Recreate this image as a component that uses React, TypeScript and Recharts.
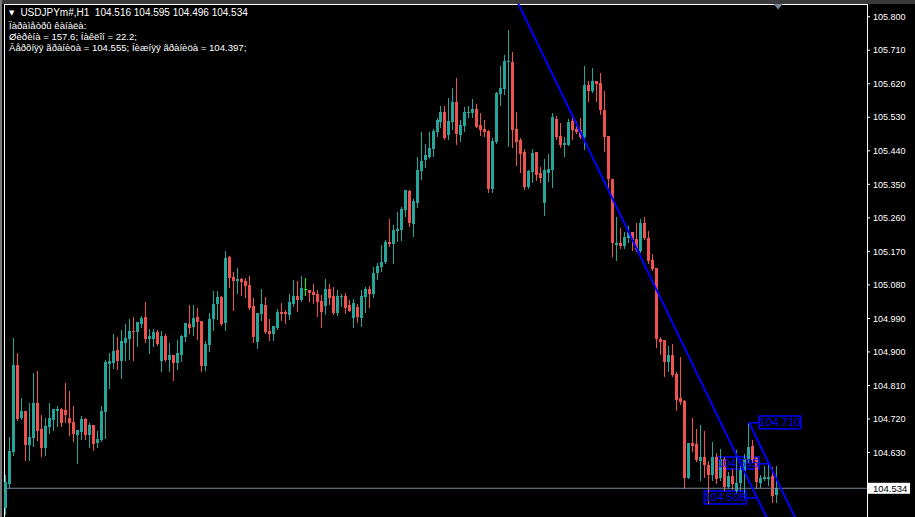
import React from 'react';
import { ComposedChart, Bar, XAxis, YAxis, ReferenceLine, ReferenceArea, ReferenceDot } from 'recharts';

const HEADER_LINES = [
  'USDJPYm#,H1  104.516 104.595 104.496 104.534',
  'Ïàðàìåòðû êàíàëà:',
  'Øèðèíà = 157.6; Íàêëîí = 22.2;',
  'Âåðõíÿÿ ãðàíèöà = 104.555; Íèæíÿÿ ãðàíèöà = 104.397;',
];

const OPEN = [
  104.481, 104.545, 104.632, 104.865, 104.723, 104.741, 104.650, 104.669, 104.763, 104.693,
  104.642, 104.698, 104.717, 104.741, 104.747, 104.744, 104.723, 104.712, 104.677, 104.685,
  104.720, 104.677, 104.704, 104.655, 104.663, 104.739, 104.867, 104.870, 104.905, 104.875,
  104.924, 104.935, 104.956, 104.953, 104.975, 104.993, 104.935, 104.935, 104.953, 104.875,
  104.943, 104.878, 104.892, 104.870, 104.892, 104.940, 104.975, 104.967, 104.993, 104.983,
  104.862, 104.919, 104.988, 105.028, 105.047, 104.978, 105.155, 105.101, 105.090, 105.096,
  105.090, 105.080, 105.023, 104.927, 105.002, 105.026, 104.956, 104.948, 104.964, 105.007,
  105.007, 104.999, 105.028, 105.050, 105.039, 105.068, 105.066, 105.061, 105.055, 105.037,
  105.023, 105.069, 105.050, 105.004, 105.049, 105.050, 105.026, 104.991, 105.020, 104.991,
  105.047, 105.069, 105.055, 105.112, 105.128, 105.141, 105.195, 105.190, 105.225, 105.227,
  105.281, 105.332, 105.243, 105.300, 105.386, 105.415, 105.423, 105.445, 105.490, 105.517,
  105.544, 105.482, 105.517, 105.571, 105.482, 105.507, 105.541, 105.541, 105.552, 105.509,
  105.498, 105.493, 105.337, 105.463, 105.592, 105.606, 105.680, 105.678, 105.498, 105.469,
  105.437, 105.343, 105.383, 105.437, 105.380, 105.300, 105.380, 105.388, 105.525, 105.480,
  105.456, 105.456, 105.520, 105.498, 105.496, 105.477, 105.617, 105.601, 105.627, 105.622,
  105.550, 105.480, 105.364, 105.187, 105.192, 105.184, 105.206, 105.222, 105.203, 105.171,
  105.246, 105.206, 105.147, 105.125, 104.935, 104.932, 104.873, 104.892, 104.841, 104.777,
  104.768, 104.562, 104.655, 104.652, 104.607, 104.618, 104.597, 104.570, 104.618, 104.562,
  104.613, 104.537, 104.567, 104.527, 104.548, 104.580, 104.610, 104.647, 104.615, 104.548,
  104.559, 104.559, 104.567, 104.516,
];

const HIGH = [
  104.570, 104.671, 104.938, 104.897, 104.777, 104.742, 104.763, 104.843, 104.848, 104.731,
  104.723, 104.763, 104.748, 104.755, 104.750, 104.816, 104.795, 104.755, 104.691, 104.728,
  104.723, 104.709, 104.705, 104.687, 104.755, 104.878, 104.897, 104.948, 104.940, 104.959,
  104.975, 104.988, 104.993, 104.981, 104.996, 105.034, 104.962, 104.962, 104.959, 104.956,
  104.948, 104.924, 104.893, 104.932, 104.946, 104.979, 105.026, 105.026, 105.018, 104.984,
  104.929, 105.004, 105.063, 105.063, 105.050, 105.171, 105.158, 105.114, 105.125, 105.098,
  105.098, 105.104, 105.045, 105.005, 105.069, 105.047, 104.988, 104.971, 105.015, 105.031,
  105.012, 105.055, 105.093, 105.090, 105.104, 105.098, 105.067, 105.082, 105.066, 105.053,
  105.096, 105.082, 105.074, 105.066, 105.055, 105.058, 105.039, 105.042, 105.028, 105.066,
  105.074, 105.077, 105.128, 105.139, 105.187, 105.200, 105.257, 105.241, 105.276, 105.289,
  105.336, 105.335, 105.311, 105.423, 105.490, 105.458, 105.490, 105.498, 105.528, 105.560,
  105.560, 105.582, 105.609, 105.635, 105.523, 105.557, 105.560, 105.579, 105.566, 105.541,
  105.523, 105.496, 105.474, 105.598, 105.668, 105.697, 105.764, 105.705, 105.544, 105.474,
  105.445, 105.388, 105.445, 105.438, 105.397, 105.418, 105.431, 105.541, 105.533, 105.515,
  105.477, 105.525, 105.531, 105.520, 105.528, 105.668, 105.627, 105.662, 105.628, 105.649,
  105.601, 105.481, 105.365, 105.262, 105.233, 105.222, 105.238, 105.223, 105.246, 105.257,
  105.262, 105.225, 105.163, 105.126, 104.940, 104.933, 104.916, 104.921, 104.846, 104.886,
  104.771, 104.656, 104.723, 104.693, 104.704, 104.687, 104.607, 104.658, 104.629, 104.639,
  104.618, 104.578, 104.586, 104.637, 104.597, 104.626, 104.710, 104.663, 104.618, 104.570,
  104.594, 104.602, 104.591, 104.595,
];

const LOW = [
  104.465, 104.535, 104.624, 104.717, 104.720, 104.610, 104.610, 104.647, 104.663, 104.621,
  104.624, 104.682, 104.690, 104.701, 104.701, 104.712, 104.677, 104.660, 104.602, 104.666,
  104.666, 104.644, 104.637, 104.644, 104.660, 104.669, 104.803, 104.857, 104.854, 104.830,
  104.878, 104.881, 104.878, 104.916, 104.967, 104.927, 104.897, 104.916, 104.919, 104.848,
  104.875, 104.848, 104.824, 104.854, 104.875, 104.929, 104.951, 104.946, 104.935, 104.848,
  104.851, 104.902, 104.959, 104.988, 104.972, 104.959, 105.074, 105.012, 105.058, 105.053,
  105.047, 105.015, 104.927, 104.911, 104.986, 104.951, 104.932, 104.932, 104.962, 104.986,
  104.978, 104.988, 105.023, 105.010, 105.038, 105.053, 105.037, 105.031, 104.996, 104.967,
  105.002, 105.028, 105.002, 104.999, 105.023, 105.004, 105.009, 104.967, 104.980, 104.970,
  105.007, 105.020, 105.047, 105.096, 105.117, 105.139, 105.184, 105.139, 105.198, 105.200,
  105.265, 105.238, 105.211, 105.289, 105.364, 105.397, 105.422, 105.426, 105.480, 105.504,
  105.473, 105.471, 105.498, 105.458, 105.466, 105.493, 105.531, 105.531, 105.503, 105.482,
  105.480, 105.329, 105.329, 105.462, 105.563, 105.592, 105.453, 105.450, 105.402, 105.383,
  105.337, 105.340, 105.356, 105.362, 105.356, 105.268, 105.359, 105.343, 105.471, 105.450,
  105.426, 105.455, 105.471, 105.488, 105.474, 105.445, 105.574, 105.598, 105.574, 105.539,
  105.439, 105.335, 105.158, 105.147, 105.179, 105.179, 105.195, 105.174, 105.171, 105.168,
  105.203, 105.139, 105.120, 104.913, 104.894, 104.835, 104.848, 104.835, 104.744, 104.760,
  104.535, 104.561, 104.634, 104.607, 104.556, 104.564, 104.495, 104.556, 104.548, 104.556,
  104.529, 104.535, 104.532, 104.524, 104.529, 104.508, 104.602, 104.605, 104.535, 104.535,
  104.556, 104.543, 104.497, 104.496,
];

const CLOSE = [
  104.551, 104.634, 104.865, 104.720, 104.741, 104.650, 104.671, 104.763, 104.687, 104.642,
  104.701, 104.723, 104.747, 104.747, 104.709, 104.731, 104.709, 104.679, 104.690, 104.720,
  104.677, 104.704, 104.652, 104.666, 104.741, 104.873, 104.875, 104.902, 104.875, 104.929,
  104.938, 104.956, 104.953, 104.980, 104.991, 104.935, 104.943, 104.953, 104.921, 104.943,
  104.878, 104.892, 104.870, 104.897, 104.943, 104.978, 104.964, 104.991, 104.980, 104.862,
  104.921, 104.988, 105.028, 105.047, 104.975, 105.152, 105.098, 105.090, 105.096, 105.088,
  105.077, 105.018, 104.940, 105.004, 105.028, 104.953, 104.948, 104.970, 105.007, 105.002,
  105.002, 105.034, 105.050, 105.039, 105.072, 105.068, 105.058, 105.053, 105.034, 105.007,
  105.069, 105.045, 105.004, 105.050, 105.050, 105.018, 105.010, 105.031, 104.993, 105.050,
  105.069, 105.055, 105.112, 105.131, 105.141, 105.195, 105.190, 105.227, 105.230, 105.284,
  105.335, 105.246, 105.305, 105.388, 105.413, 105.429, 105.447, 105.493, 105.523, 105.544,
  105.474, 105.520, 105.571, 105.485, 105.509, 105.544, 105.544, 105.552, 105.504, 105.496,
  105.490, 105.337, 105.466, 105.595, 105.609, 105.681, 105.681, 105.496, 105.463, 105.431,
  105.343, 105.386, 105.434, 105.375, 105.367, 105.388, 105.391, 105.531, 105.477, 105.456,
  105.461, 105.517, 105.496, 105.490, 105.477, 105.617, 105.601, 105.627, 105.619, 105.550,
  105.477, 105.364, 105.192, 105.192, 105.184, 105.209, 105.222, 105.200, 105.174, 105.246,
  105.206, 105.144, 105.123, 104.935, 104.927, 104.873, 104.892, 104.838, 104.771, 104.766,
  104.562, 104.655, 104.647, 104.610, 104.618, 104.597, 104.570, 104.618, 104.559, 104.613,
  104.537, 104.567, 104.545, 104.548, 104.583, 104.613, 104.644, 104.610, 104.551, 104.562,
  104.564, 104.564, 104.513, 104.534,
];

const Y_TICKS = [
  105.8, 105.71, 105.62, 105.53, 105.44, 105.35, 105.26, 105.17, 105.08,
  104.99, 104.9, 104.81, 104.72, 104.63,
];

const LAST_PRICE = 104.534;
const CHANNEL_SLOPE = 0.0222;
const CHANNEL_UPPER = 104.555;
const CHANNEL_LOWER = 104.397;
const CHANNEL_ANCHOR_BAR = 193;
const UPPER_START_BAR = 186;
const LOWER_START_BAR = 127;
const LINE_END_BAR = 200;

const LABEL_BOXES = [
  { text: '104.710', x1: 188.5, x2: 198.9, y1: 104.694, y2: 104.728, lineFrom: 186, lineTo: 188.5, lineY: 104.71 },
  { text: '104.595', x1: 177.75, x2: 188.5, y1: 104.586, y2: 104.618, lineFrom: 188.5, lineTo: 191, lineY: 104.6 },
  { text: '104.508', x1: 174.75, x2: 185.25, y1: 104.492, y2: 104.527, lineFrom: 185.25, lineTo: 187.75, lineY: 104.508 },
];

const HIGHLIGHT_BAR = 75;
const SHIFT_MARK_BAR = 193.25;

const W = 915;
const H = 517;
const SLOTS = 216;
const Y_MIN = 104.4569;
const Y_MAX = 105.8341;

const BULL = '#26a69a';
const BEAR = '#ef5350';
const HILITE = '#00ff00';
const BLUE = '#0000ff';
const FONT = '"Liberation Sans", Arial, sans-serif';

const data = Array.from({ length: SLOTS }, (_, i) =>
  i < OPEN.length
    ? { i, o: OPEN[i], h: HIGH[i], l: LOW[i], c: CLOSE[i], range: [LOW[i], HIGH[i]] }
    : { i, range: null }
);

const channelAt = (base: number, bar: number) => base + CHANNEL_SLOPE * (CHANNEL_ANCHOR_BAR - bar);

function Candle(props: any) {
  const { x, y, width, height } = props;
  const p = props.payload;
  if (!p || p.o == null || x == null || y == null) return null;
  const { o, h, l, c } = p;
  const top = Math.min(y, y + height);
  const hgt = Math.abs(height);
  const k = h > l ? hgt / (h - l) : 0;
  const col = Math.floor(x + width / 2);
  const bt = Math.round(top + (h - Math.max(o, c)) * k);
  const bbRaw = Math.round(top + (h - Math.min(o, c)) * k);
  const bb = Math.max(bbRaw, bt + 1);
  const color = p.i === HIGHLIGHT_BAR ? HILITE : c >= o ? BULL : BEAR;
  return (
    <g>
      <line x1={col + 0.5} x2={col + 0.5} y1={Math.round(top)} y2={Math.round(top + hgt) + 1} stroke={color} strokeWidth={1} shapeRendering="crispEdges" />
      <rect x={col - 1} y={bt} width={3} height={bb - bt} fill={color} shapeRendering="crispEdges" />
    </g>
  );
}

function Frame(props: any) {
  const { x, y, width, height } = props;
  const l = Math.round(x) + 0.5;
  const t = Math.round(y) + 0.5;
  const r = Math.round(x + width) + 0.5;
  const b = Math.round(y + height) + 5;
  return <path d={`M${l},${b}V${t}H${r}V${b}`} stroke="#ffffff" strokeWidth={1} fill="none" shapeRendering="crispEdges" />;
}

function ShiftMark(props: any) {
  const { cx, cy } = props;
  if (cx == null) return null;
  return <polygon points={`${cx - 4.5},${cy} ${cx + 4.5},${cy} ${cx},${cy + 5.5}`} fill="#7b8794" />;
}

function PriceTag(props: any) {
  const vb = props.viewBox || {};
  const yy = vb.y;
  const xx = (vb.x || 0) + (vb.width || 0) + 1;
  return (
    <g>
      <rect x={xx} y={yy - 5.5} width={42} height={11} fill="#ffffff" />
      <text x={xx + 5} y={yy + 3.5} fill="#000000" fontSize={9.5} fontFamily={FONT}>{LAST_PRICE.toFixed(3)}</text>
    </g>
  );
}

export default function App() {
  return (
    <div style={{ position: 'absolute', left: 0, top: 0, width: W, height: H, background: '#000000', overflow: 'hidden' }}>
      <div style={{ position: 'absolute', left: 0, top: 0, width: W, height: 4, background: '#3a3a3a' }} />
      <div style={{ position: 'absolute', left: 0, top: 0, width: 2, height: H, background: '#7a7a7a' }} />
      <ComposedChart
        width={W}
        height={H}
        data={data}
        margin={{ top: 4, right: 0, bottom: 0, left: 4 }}
        barCategoryGap={0}
        style={{ position: 'absolute', left: 0, top: 0 }}
      >
        <XAxis xAxisId="cat" dataKey="i" type="category" hide />
        <XAxis xAxisId="num" dataKey="i" type="number" domain={[-0.5, SLOTS - 0.5]} allowDataOverflow hide />
        <YAxis
          orientation="right"
          width={48}
          domain={[Y_MIN, Y_MAX]}
          allowDataOverflow
          ticks={Y_TICKS}
          interval={0}
          tickFormatter={(v: number) => v.toFixed(3)}
          tick={{ fill: '#ffffff', fontSize: 9, fontFamily: FONT }}
          tickLine={{ stroke: '#ffffff' }}
          tickSize={3}
          tickMargin={3}
          axisLine={false}
        />
        <ReferenceArea
          xAxisId="num"
          x1={-0.5}
          x2={SLOTS - 0.5}
          y1={Y_MIN}
          y2={Y_MAX}
          ifOverflow="visible"
          shape={<Frame />}
        />
        {LABEL_BOXES.map((b) => (
          <ReferenceArea
            key={b.text}
            xAxisId="num"
            x1={b.x1}
            x2={b.x2}
            y1={b.y1}
            y2={b.y2}
            ifOverflow="visible"
            stroke={BLUE}
            strokeWidth={1.5}
            fill="none"
            fillOpacity={0}
            label={{ value: b.text, position: 'center', fill: BLUE, fontSize: 11.5, fontFamily: FONT }}
          />
        ))}
        {LABEL_BOXES.map((b) => (
          <ReferenceLine
            key={'c' + b.text}
            xAxisId="num"
            segment={[{ x: b.lineFrom, y: b.lineY }, { x: b.lineTo, y: b.lineY }]}
            stroke={BLUE}
            strokeWidth={1.5}
            ifOverflow="visible"
          />
        ))}
        <ReferenceLine
          y={LAST_PRICE}
          xAxisId="num"
          stroke="#778899"
          strokeWidth={1}
          label={<PriceTag />}
        />
        <Bar xAxisId="cat" dataKey="range" barSize={3} isAnimationActive={false} shape={<Candle />} />
        <ReferenceLine
          xAxisId="num"
          segment={[
            { x: LOWER_START_BAR, y: channelAt(CHANNEL_LOWER, LOWER_START_BAR) },
            { x: LINE_END_BAR, y: channelAt(CHANNEL_LOWER, LINE_END_BAR) },
          ]}
          stroke={BLUE}
          strokeWidth={2}
          ifOverflow="hidden"
        />
        <ReferenceLine
          xAxisId="num"
          segment={[
            { x: UPPER_START_BAR, y: channelAt(CHANNEL_UPPER, UPPER_START_BAR) },
            { x: LINE_END_BAR, y: channelAt(CHANNEL_UPPER, LINE_END_BAR) },
          ]}
          stroke={BLUE}
          strokeWidth={2}
          ifOverflow="hidden"
        />
        <ReferenceDot xAxisId="num" x={SHIFT_MARK_BAR} y={Y_MAX} ifOverflow="visible" shape={<ShiftMark />} />
      </ComposedChart>
      <div style={{ position: 'absolute', left: 9, top: 7.4, color: '#ffffff', font: `10px ${FONT}`, lineHeight: '11.3px', whiteSpace: 'pre' }}>
        {HEADER_LINES.map((line, idx) => (
          <div key={idx} style={{ fontSize: idx === 0 ? 10 : 9.6 }}>
            {idx === 0 ? <span style={{ fontSize: 7, fontFamily: '"DejaVu Sans"', verticalAlign: '1px' }}>{'▼'}</span> : null}
            {idx === 0 ? <span style={{ display: 'inline-block', width: 6 }} /> : null}
            {line}
          </div>
        ))}
      </div>
    </div>
  );
}
